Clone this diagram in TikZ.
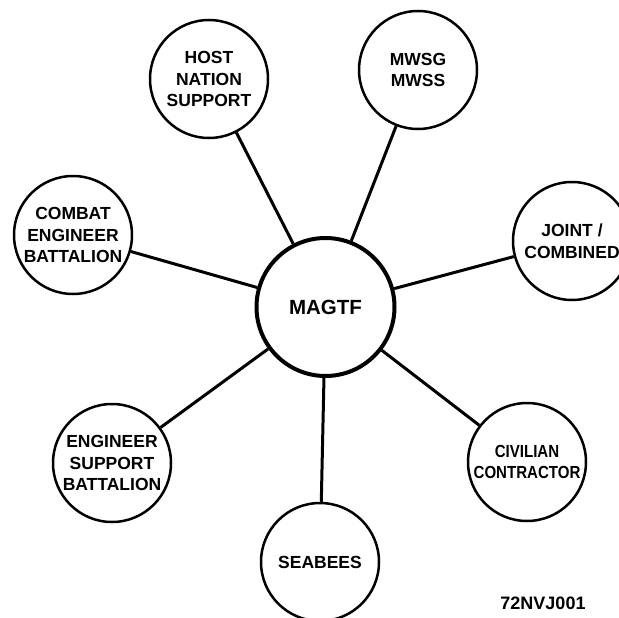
\documentclass[tikz,border=0pt]{standalone}
\usepackage{fontspec}
\setmainfont{Liberation Sans}
\begin{document}
\begin{tikzpicture}[x=1pt,y=-1pt,
  unit/.style={circle,draw,line width=2.5pt,minimum size=118pt,inner sep=0pt,align=center,
    font=\bfseries\fontsize{17.5}{21.5}\selectfont},
  hub/.style={circle,draw,line width=4pt,minimum size=138pt,inner sep=0pt,
    font=\bfseries\fontsize{20.5}{24}\selectfont},
  link/.style={line width=3pt}]
\useasboundingbox (0,0) rectangle (619,618);
\clip (0,0) rectangle (619,618);
\node[hub] (magtf) at (325.5,307) {MAGTF};
\node[unit] (host) at (209,79) {HOST\\NATION\\SUPPORT};
\node[unit] (mwsg) at (418,70) {MWSG\\MWSS};
\node[unit] (combat) at (73,235) {COMBAT\\ENGINEER\\BATTALION};
\node[unit] (joint) at (572,241) {JOINT /\\COMBINED};
\node[unit] (esb) at (112,463) {ENGINEER\\SUPPORT\\BATTALION};
\node[unit] (civ) at (527,462) {\scalebox{0.86}[1]{CIVILIAN}\\\scalebox{0.86}[1]{CONTRACTOR}};
\node[unit] (seabees) at (320,562) {SEABEES};
\node[font=\bfseries\fontsize{18}{20}\selectfont,inner sep=0pt] (code) at (543,603.5) {72NVJ001};
\foreach \n in {host,mwsg,combat,joint,esb,civ,seabees}
  \draw[link] (magtf) -- (\n);
\end{tikzpicture}
\end{document}
